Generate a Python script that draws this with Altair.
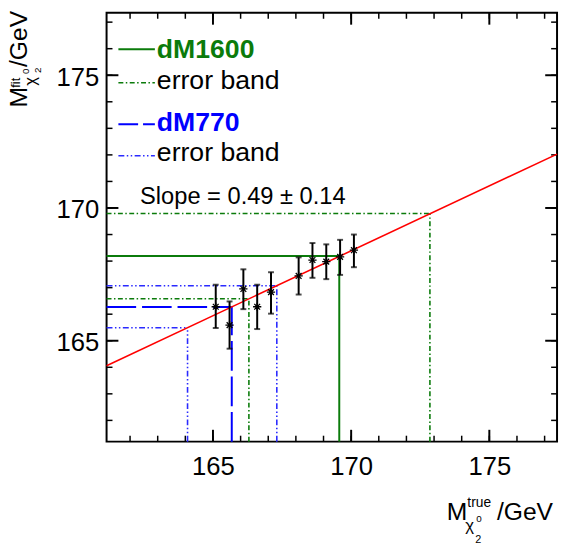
import altair as alt
import pandas as pd

FONT = "Liberation Sans"
X_DOMAIN = [161.15, 177.45]
Y_DOMAIN = [161.2, 177.35]
W, H = 457, 435

# measured points
x_true = [165.1, 165.6, 166.1, 166.6, 167.1, 168.1, 168.6, 169.1, 169.6, 170.1]
y_fit = [166.28, 165.59, 166.95, 166.28, 166.83, 167.44, 168.04, 167.98, 168.16, 168.41]
y_lo = [165.48, 164.70, 166.19, 165.44, 166.02, 166.74, 167.37, 167.32, 167.48, 167.77]
y_hi = [167.11, 166.48, 167.69, 167.11, 167.58, 168.14, 168.68, 168.63, 168.80, 169.00]

# fit line end points
fit_x = [161.15, 177.45]
fit_y = [164.06, 172.03]

# projections of dM1600 / dM770 onto the fit
proj_series = ["dM1600", "dM1600 band", "dM1600 band", "dM770", "dM770 band", "dM770 band"]
proj_x = [169.57, 166.30, 172.85, 165.68, 164.08, 167.31]
proj_y = [168.19, 166.58, 169.79, 166.27, 165.49, 167.07]

# ticks
major_ticks = [165, 170, 175]
minor_ticks = [162, 163, 164, 165, 166, 167, 168, 169, 170, 171, 172, 173, 174, 175, 176, 177]

legend_labels = ["dM1600", "error band", "dM770", "error band"]
slope_text = "Slope = 0.49 \u00b1 0.14"

GREEN = "#0b7b0b"
BLUE = "#0000ff"
BLUE_B = "#2a2aff"
RED = "#ff0000"

xs = alt.Scale(domain=X_DOMAIN, nice=False, zero=False)
ys = alt.Scale(domain=Y_DOMAIN, nice=False, zero=False)


def lab_axis(orient, pad, **kw):
    return alt.Axis(orient=orient, values=major_ticks, ticks=False, domain=False, grid=False,
                    labelFontSize=26, labelFont=FONT, labelColor="black", labelPadding=pad,
                    labelFlush=False, title="", **kw)


pts = pd.DataFrame({"x": x_true, "y": y_fit, "lo": y_lo, "hi": y_hi})
fit = pd.DataFrame({"x": fit_x, "y": fit_y})
proj = pd.DataFrame({"s": proj_series, "px": proj_x, "py": proj_y,
                     "x0": [X_DOMAIN[0]] * len(proj_x), "y0": [Y_DOMAIN[0]] * len(proj_x)})
maj = pd.DataFrame({"t": major_ticks})
mnr = pd.DataFrame({"t": minor_ticks})

styles = {
    "dM1600": dict(color=GREEN, strokeWidth=2),
    "dM1600 band": dict(color=GREEN, strokeWidth=1.6, strokeDash=[5, 2.5, 1.5, 2.5]),
    "dM770": dict(color=BLUE, strokeWidth=2, strokeDash=[30, 6]),
    "dM770 band": dict(color=BLUE_B, strokeWidth=1.6, strokeDash=[6, 2.5, 1.5, 2.5, 1.5, 2.5]),
}

layers = []

# inward frame ticks (major / minor on all four sides)
for df, L, sw in ((mnr, 6, 1.5), (maj, 12, 2)):
    xt = alt.X("t:Q", scale=xs, axis=None)
    yt = alt.Y("t:Q", scale=ys, axis=None)
    layers.append(alt.Chart(df).mark_rule(color="black", strokeWidth=sw).encode(
        x=xt, y=alt.value(H), y2=alt.value(H - L)))
    layers.append(alt.Chart(df).mark_rule(color="black", strokeWidth=sw).encode(
        x=xt, y=alt.value(0), y2=alt.value(L)))
    layers.append(alt.Chart(df).mark_rule(color="black", strokeWidth=sw).encode(
        y=yt, x=alt.value(0), x2=alt.value(L)))
    layers.append(alt.Chart(df).mark_rule(color="black", strokeWidth=sw).encode(
        y=yt, x=alt.value(W), x2=alt.value(W - L)))

for name, st in styles.items():
    sub = proj[proj["s"] == name]
    layers.append(alt.Chart(sub).mark_rule(**st).encode(
        x=alt.X("x0:Q", scale=xs, axis=None), x2="px:Q",
        y=alt.Y("py:Q", scale=ys, axis=None)))
    layers.append(alt.Chart(sub).mark_rule(**st).encode(
        x=alt.X("px:Q", scale=xs, axis=None),
        y=alt.Y("y0:Q", scale=ys, axis=None), y2="py:Q"))

# fit line
layers.append(alt.Chart(fit).mark_line(color=RED, strokeWidth=1.6).encode(
    x=alt.X("x:Q", scale=xs, axis=None),
    y=alt.Y("y:Q", scale=ys, axis=None)))

# error bars (carry the tick labels)
layers.append(alt.Chart(pts).mark_rule(color="black", strokeWidth=2).encode(
    x=alt.X("x:Q", scale=xs, axis=lab_axis("bottom", 12)),
    y=alt.Y("lo:Q", scale=ys, axis=lab_axis("left", 8, labelOffset=2)), y2="hi:Q"))
layers.append(alt.Chart(pts).mark_tick(color="black", orient="horizontal", size=6, thickness=2).encode(
    x=alt.X("x:Q", scale=xs, axis=None),
    y=alt.Y("lo:Q", scale=ys, axis=None)))
layers.append(alt.Chart(pts).mark_tick(color="black", orient="horizontal", size=6, thickness=2).encode(
    x=alt.X("x:Q", scale=xs, axis=None),
    y=alt.Y("hi:Q", scale=ys, axis=None)))
STAR = "M-1,0L1,0M0,-1L0,1M-0.7,-0.7L0.7,0.7M-0.7,0.7L0.7,-0.7"
layers.append(alt.Chart(pts).mark_point(shape=STAR, filled=False, color="black", strokeWidth=1.3, size=70,
                                        opacity=1).encode(
    x=alt.X("x:Q", scale=xs, axis=None),
    y=alt.Y("y:Q", scale=ys, axis=None)))


def txt(s, x, y, size, color="black", bold=False, angle=0):
    kw = dict(align="left", baseline="alphabetic", fontSize=size, font=FONT, color=color)
    if bold:
        kw["fontWeight"] = "bold"
    if angle:
        kw["angle"] = angle
    return alt.Chart(pd.DataFrame({"t": [s]})).mark_text(**kw).encode(
        x=alt.value(x), y=alt.value(y), text="t:N")


def sample(y, st):
    return alt.Chart(pd.DataFrame({"t": [0]})).mark_rule(**st).encode(
        x=alt.value(12), x2=alt.value(49), y=alt.value(y))


# legend
layers.append(sample(37, dict(color=GREEN, strokeWidth=2)))
layers.append(txt(legend_labels[0], 51, 46, 27, GREEN, bold=True))
layers.append(sample(71, dict(color=GREEN, strokeWidth=1.6, strokeDash=[5, 2.5, 1.5, 2.5])))
layers.append(txt(legend_labels[1], 51, 77, 27))
layers.append(sample(113, dict(color=BLUE, strokeWidth=2, strokeDash=[20, 5])))
layers.append(txt(legend_labels[2], 51, 120, 27, BLUE, bold=True))
layers.append(sample(145, dict(color=BLUE_B, strokeWidth=1.6, strokeDash=[6, 2.5, 1.5, 2.5, 1.5, 2.5])))
layers.append(txt(legend_labels[3], 51, 150, 27))
layers.append(txt(slope_text, 34, 194, 24))

# y-axis title  M^fit_{chi2^0}/GeV (rotated)
layers.append(txt("M", -81, 96, 25, angle=270))
layers.append(txt("fit", -88, 76, 13, angle=270))
layers.append(txt("\u03c7", -72, 74, 17, angle=270))
layers.append(txt("0", -79, 62, 10, angle=270))
layers.append(txt("2", -67, 61, 10, angle=270))
layers.append(txt("/GeV", -81, 55, 25, angle=270))

# x-axis title  M^true_{chi2^0}/GeV
layers.append(txt("M", 345, 514, 25))
layers.append(txt("true", 366, 501, 14))
layers.append(txt("\u03c7", 364, 526, 17))
layers.append(txt("0", 375, 517, 10))
layers.append(txt("2", 374, 538, 11))
layers.append(txt("/GeV", 396, 514, 25))

chart = alt.layer(*layers).resolve_axis(x="independent", y="independent").properties(
    width=W, height=H,
    padding={"left": 100, "top": 1, "right": 3, "bottom": 104},
    autosize=alt.AutoSizeParams(type="none"),
).configure_view(stroke="black", strokeWidth=2)

chart.save("out.html", embed_options={"renderer": "svg", "actions": False})
